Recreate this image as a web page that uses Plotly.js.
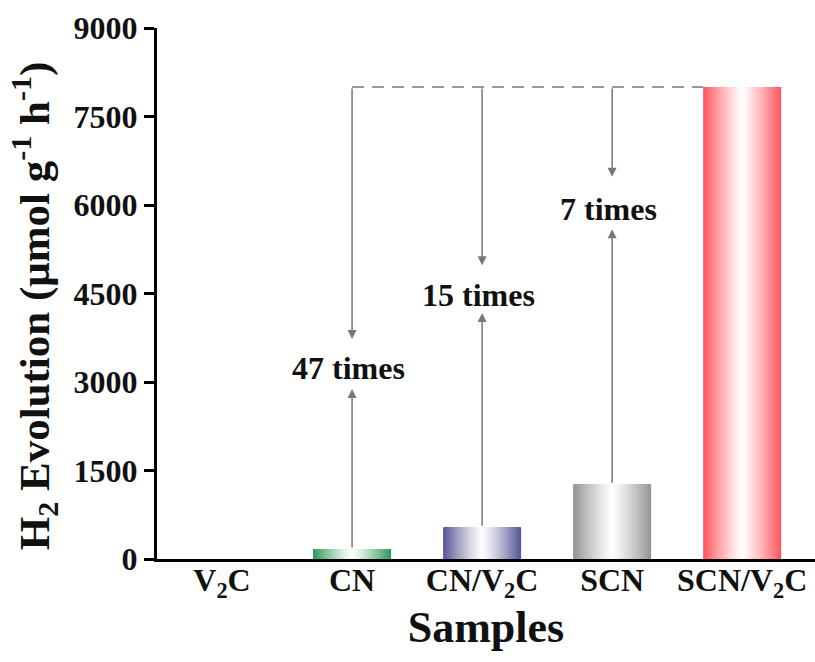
<!DOCTYPE html>
<html>
<head>
<meta charset="utf-8">
<script src="https://cdn.plot.ly/plotly-3.0.1.min.js"></script>
<style>html,body{margin:0;padding:0;background:#fff;}#chart{width:815px;height:662px;}</style>
</head>
<body>
<div id="chart"></div>
<script>
// ---- data ----
const categories = ['V<sub>2</sub>C', 'CN', 'CN/V<sub>2</sub>C', 'SCN', 'SCN/V<sub>2</sub>C'];
const h2Values = [0, 170, 540, 1265, 8000];
const edgeColors = ['#444444', '#2f9a5c', '#585896', '#959595', '#ff565e'];
const foldLabels = ['', '47 times', '15 times', '7 times', ''];
// annotation layout (y-positions of label and arrow tips, in axis units)
const labelY = [null, 3240, 4480, 5940, null];
const downTipY = [null, 3730, 4980, 6480, null];
const upTipY = [null, 2880, 4170, 5590, null];
const yTicks = [0, 1500, 3000, 4500, 6000, 7500, 9000];

const FONT = 'Liberation Serif, Times New Roman, serif';
const BAR_W = 0.6;
const N = 40;
const xIdx = categories.map((_, i) => i);

function hexToRgb(h) {
  h = h.replace('#', '');
  return [parseInt(h.substr(0, 2), 16), parseInt(h.substr(2, 2), 16), parseInt(h.substr(4, 2), 16)];
}
function mix(hex, f) {
  const c = hexToRgb(hex);
  const r = c.map(v => Math.round(255 * (1 - f) + v * f));
  return 'rgb(' + r.join(',') + ')';
}

// nested bars: outer (edge colour) to inner (white) -> horizontal gradient
const traces = [];
for (let k = 0; k < N; k++) {
  const u = 1 - k / N;           // relative half-width of this layer
  const f = Math.pow(u, 1.2);     // colour intensity
  traces.push({
    type: 'bar',
    x: xIdx,
    y: h2Values,
    width: BAR_W * u,
    marker: { color: edgeColors.map(c => mix(c, f)), line: { width: 0 } },
    hoverinfo: 'skip',
    showlegend: false
  });
}

const maxVal = Math.max(...h2Values);
const maxIdx = h2Values.indexOf(maxVal);

const shapes = [{
  type: 'line', xref: 'x', yref: 'y',
  x0: 1, x1: maxIdx - BAR_W / 2, y0: maxVal, y1: maxVal,
  line: { color: '#777', width: 1.5, dash: '12px,8px' }
}];

const annotations = [];
for (let i = 0; i < categories.length; i++) {
  if (!foldLabels[i]) continue;
  annotations.push({
    x: i, y: labelY[i], xref: 'x', yref: 'y', text: '<b>' + foldLabels[i] + '</b>', xshift: -4,
    showarrow: false, font: { family: FONT, size: 32, color: '#111' }
  });
  annotations.push({
    x: i, y: downTipY[i], ax: i, ay: maxVal, xref: 'x', yref: 'y', axref: 'x', ayref: 'y',
    text: '', showarrow: true, arrowhead: 2, arrowsize: 1.2, arrowwidth: 1.5, arrowcolor: '#777', standoff: 0, startstandoff: 0
  });
  annotations.push({
    x: i, y: upTipY[i], ax: i, ay: h2Values[i], xref: 'x', yref: 'y', axref: 'x', ayref: 'y',
    text: '', showarrow: true, arrowhead: 2, arrowsize: 1.2, arrowwidth: 1.5, arrowcolor: '#777', standoff: 0, startstandoff: 0
  });
}
// y-axis title as rotated annotation
annotations.push({
  xref: 'paper', yref: 'paper', x: 0, y: 0.476, xshift: -123, xanchor: 'center', yanchor: 'middle',
  textangle: -90, showarrow: false,
  text: '<b>H<sub>2</sub> Evolution (μmol g<sup>-1</sup> h<sup>-1</sup>)</b>',
  font: { family: FONT, size: 43, color: '#111' }
});

const layout = {
  width: 815, height: 662,
  margin: { l: 157, r: 0, t: 28, b: 103 },
  paper_bgcolor: '#fff', plot_bgcolor: '#fff',
  barmode: 'overlay',
  font: { family: FONT, color: '#111' },
  xaxis: {
    range: [-0.5, 4.56], tickvals: xIdx, ticktext: categories.map(c => '<b>' + c + '</b>'),
    showgrid: false, zeroline: false, showline: true, linecolor: '#000', linewidth: 3,
    ticks: '', ticklabelstandoff: -9,
    tickfont: { family: FONT, size: 32, color: '#111' },
    title: { text: '<b>Samples</b>', font: { family: FONT, size: 44, color: '#111' }, standoff: 0 }
  },
  yaxis: {
    range: [0, 9000], tickvals: yTicks, ticktext: yTicks.map(v => '<b>' + v + '</b>'),
    showgrid: false, zeroline: false, showline: true, linecolor: '#000', linewidth: 3,
    ticks: 'outside', ticklen: 10, tickwidth: 3, tickcolor: '#000',
    tickfont: { family: FONT, size: 32, color: '#111' }
  },
  shapes: shapes,
  annotations: annotations
};

Plotly.newPlot('chart', traces, layout, { displayModeBar: false, staticPlot: true });
</script>
</body>
</html>
